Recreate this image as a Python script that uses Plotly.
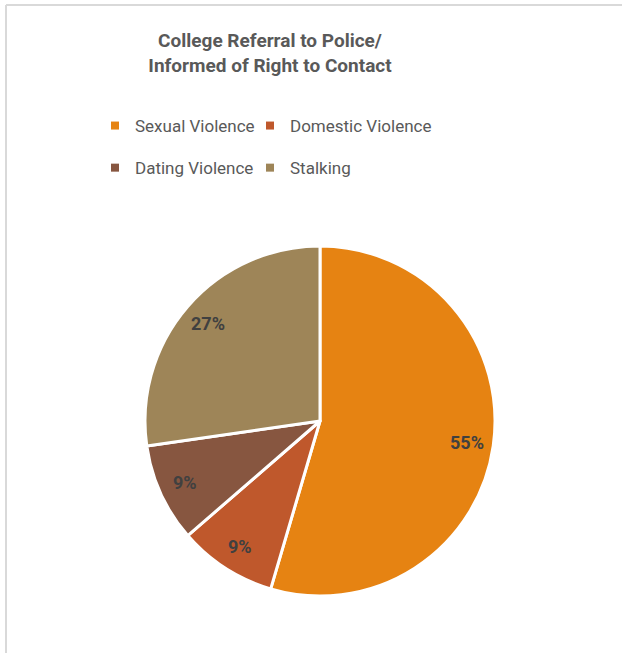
import math
import plotly.graph_objects as go

categories = ["Sexual Violence", "Domestic Violence", "Dating Violence", "Stalking"]
counts = [6, 1, 1, 3]
colors = ["#E68312", "#BF582C", "#875640", "#9E8558"]
legend_columns = ["legend", "legend2", "legend", "legend2"]
title_text = "<b>College Referral to Police/<br>Informed of Right to Contact</b>"

W, H = 622, 653
FONT = "Roboto, Liberation Sans, Arial, sans-serif"
cx, cy, r = 320, 421, 175

fig = go.Figure()
fig.add_trace(go.Pie(
    labels=categories,
    values=counts,
    sort=False,
    direction="clockwise",
    rotation=0,
    marker=dict(colors=colors, line=dict(color="white", width=3)),
    textinfo="none",
    hoverinfo="label+value+percent",
    showlegend=False,
    domain=dict(x=[(cx - r) / W, (cx + r) / W], y=[(H - cy - r) / H, (H - cy + r) / H]),
))

# legend entries (two columns)
for cat, col, leg in zip(categories, colors, legend_columns):
    fig.add_trace(go.Scatter(
        x=[None], y=[None], mode="markers", name=cat, legend=leg, legendgroup=cat,
        marker=dict(symbol="square", size=8, color=col), hoverinfo="skip",
    ))

# percentage labels placed along each slice's middle angle
total = sum(counts)
annotations = []
cum = 0.0
for c in counts:
    frac = c / total
    mid = (cum + frac / 2) * 2 * math.pi
    cum += frac
    lx = cx + 0.85 * r * math.sin(mid)
    ly = cy - 0.85 * r * math.cos(mid)
    annotations.append(dict(
        x=lx / W, y=1 - ly / H, xref="paper", yref="paper", showarrow=False,
        xanchor="center", yanchor="middle",
        text="<b>%d%%</b>" % round(frac * 100),
        font=dict(family=FONT, size=18, color="#404040"),
    ))

legend_common = dict(orientation="v", yanchor="top", xanchor="left",
                     font=dict(family=FONT, size=17, color="#595959"),
                     tracegroupgap=17, bgcolor="rgba(0,0,0,0)", itemclick=False, itemdoubleclick=False)

fig.update_layout(
    width=W, height=H,
    margin=dict(l=0, r=0, t=0, b=0),
    paper_bgcolor="white",
    plot_bgcolor="white",
    font=dict(family=FONT, color="#595959"),
    xaxis=dict(visible=False),
    yaxis=dict(visible=False),
    title=dict(text=title_text, x=270 / W, xanchor="center", y=1 - 47 / H, yanchor="top",
               font=dict(family=FONT, size=19, color="#595959")),
    legend=dict(x=95 / W, y=1 - 108 / H, **legend_common),
    legend2=dict(x=250 / W, y=1 - 108 / H, **legend_common),
    annotations=annotations,
    shapes=[
        dict(type="line", xref="paper", yref="paper", x0=6 / W, x1=1, y0=1 - 5 / H, y1=1 - 5 / H,
             line=dict(color="#D9D9D9", width=2)),
        dict(type="line", xref="paper", yref="paper", x0=6 / W, x1=6 / W, y0=0, y1=1 - 5 / H,
             line=dict(color="#D9D9D9", width=2)),
    ],
)

fig.write_html("out.html", config={"displayModeBar": False},
               post_script="document.body.style.margin='0';")
